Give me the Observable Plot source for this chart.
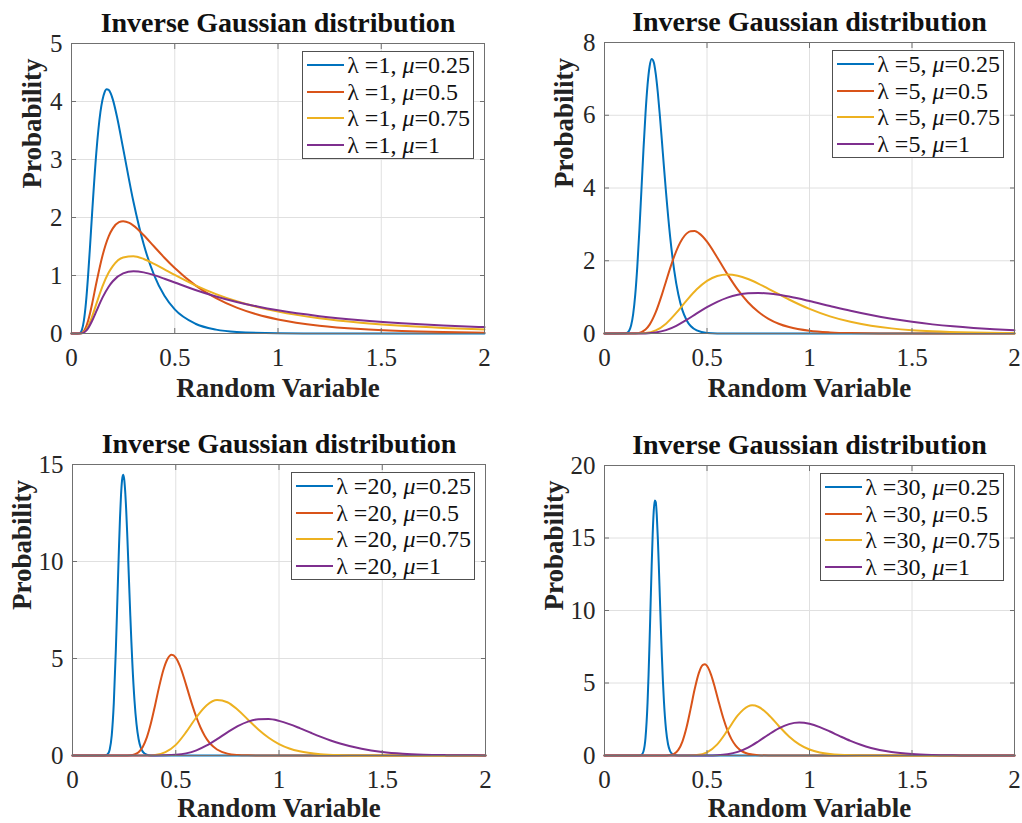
<!DOCTYPE html>
<html><head><meta charset="utf-8">
<script src="https://cdn.jsdelivr.net/npm/d3@7"></script>
<script src="https://cdn.jsdelivr.net/npm/@observablehq/plot@0.6"></script>
<style>
body{margin:0;background:#fff;}
#root{position:relative;width:1022px;height:823px;overflow:hidden;background:#fff;font-family:"Liberation Serif","Times New Roman",Times,serif;}
.panel{position:absolute;}
.panel svg{display:block;max-width:none;}
.panel svg text{font-family:"Liberation Serif","Times New Roman",Times,serif;}
.legend{position:absolute;background:#fff;border:1px solid #505050;padding:0 3px 0 4px;font-size:24px;color:#111;line-height:1;font-family:"Liberation Serif","Times New Roman",Times,serif;}
.legend .row{display:flex;align-items:center;height:26.6px;white-space:nowrap;}
.legend .sw{display:inline-block;width:37px;height:0;border-top:2px solid;margin-right:3px;}
</style></head><body><div id="root"></div>
<script>
// ---------- categories / labels ----------
const titleText = "Inverse Gaussian distribution";
const xLabel = "Random Variable";
const yLabel = "Probability";
const lambdas = [1, 5, 20, 30];
const mus = [0.25, 0.5, 0.75, 1];
const seriesColors = ["#0072BD", "#D95319", "#EDB120", "#7E2F8E"];
const xTicks = [0, 0.5, 1, 1.5, 2];
const yTicks1 = [0, 1, 2, 3, 4, 5];
const yTicks2 = [0, 2, 4, 6, 8];
const yTicks3 = [0, 5, 10, 15];
const yTicks4 = [0, 5, 10, 15, 20];

// ---------- lambda = 1 ----------
const x_l1_m025 = [0, 0.03, 0.04, 0.05, 0.06, 0.07, 0.08, 0.09, 0.1, 0.12, 0.14, 0.16, 0.17, 0.18, 0.19, 0.2, 0.22, 0.25, 0.3, 0.35, 0.4, 0.45, 0.5, 0.6, 0.7, 0.8, 1.0, 1.2, 1.5, 2.0];
const y_l1_m025 = [0, 0.0002, 0.0074, 0.059, 0.221, 0.531, 0.980, 1.518, 2.085, 3.111, 3.815, 4.158, 4.212, 4.202, 4.140, 4.036, 3.742, 3.192, 2.271, 1.533, 1.006, 0.649, 0.415, 0.168, 0.067, 0.027, 0.0044, 0.0007, 0.0001, 0];
const x_l1_m05 = [0, 0.03, 0.05, 0.06, 0.07, 0.08, 0.09, 0.1, 0.12, 0.15, 0.18, 0.2, 0.23, 0.25, 0.28, 0.3, 0.35, 0.4, 0.45, 0.5, 0.6, 0.7, 0.8, 0.9, 1.0, 1.2, 1.4, 1.6, 1.8, 2.0];
const y_l1_m05 = [0, 0, 0.0108, 0.0428, 0.109, 0.214, 0.353, 0.514, 0.865, 1.341, 1.675, 1.813, 1.919, 1.936, 1.906, 1.860, 1.694, 1.500, 1.307, 1.128, 0.830, 0.608, 0.445, 0.327, 0.242, 0.134, 0.0757, 0.0434, 0.0253, 0.0149];
const x_l1_m075 = [0, 0.03, 0.05, 0.06, 0.07, 0.08, 0.1, 0.12, 0.15, 0.18, 0.2, 0.25, 0.3, 0.35, 0.4, 0.45, 0.5, 0.6, 0.7, 0.8, 0.9, 1.0, 1.2, 1.4, 1.6, 1.8, 2.0];
const y_l1_m075 = [0, 0, 0.0059, 0.0235, 0.0607, 0.120, 0.295, 0.507, 0.813, 1.050, 1.163, 1.312, 1.333, 1.284, 1.201, 1.106, 1.010, 0.830, 0.679, 0.556, 0.457, 0.377, 0.261, 0.184, 0.132, 0.0958, 0.0704];
const x_l1_m1 = [0, 0.03, 0.05, 0.06, 0.07, 0.08, 0.1, 0.12, 0.15, 0.18, 0.2, 0.25, 0.3, 0.35, 0.4, 0.45, 0.5, 0.6, 0.7, 0.8, 0.9, 1.0, 1.2, 1.4, 1.6, 1.8, 2.0];
const y_l1_m1 = [0, 0, 0.0043, 0.0172, 0.0447, 0.0889, 0.220, 0.381, 0.618, 0.807, 0.901, 1.036, 1.073, 1.054, 1.006, 0.944, 0.879, 0.751, 0.639, 0.544, 0.465, 0.399, 0.2985, 0.2275, 0.176, 0.138, 0.110];

// ---------- lambda = 5 ----------
const x_l5_m025 = [0, 0.1, 0.11, 0.12, 0.13, 0.14, 0.15, 0.16, 0.17, 0.18, 0.19, 0.2, 0.21, 0.22, 0.23, 0.24, 0.25, 0.26, 0.27, 0.28, 0.29, 0.3, 0.32, 0.34, 0.36, 0.38, 0.4, 0.45, 0.5, 0.6, 2.0];
const y_l5_m025 = [0, 0.0035, 0.0196, 0.0768, 0.227, 0.537, 1.067, 1.840, 2.823, 3.932, 5.048, 6.049, 6.834, 7.340, 7.544, 7.462, 7.137, 6.626, 5.993, 5.294, 4.581, 3.890, 2.671, 1.735, 1.077, 0.643, 0.372, 0.0844, 0.017, 0.0006, 0];
const x_l5_m05 = [0, 0.15, 0.18, 0.2, 0.22, 0.25, 0.28, 0.3, 0.32, 0.34, 0.36, 0.38, 0.4, 0.42, 0.44, 0.46, 0.48, 0.5, 0.55, 0.6, 0.65, 0.7, 0.75, 0.8, 0.85, 0.9, 1.0, 1.1, 1.2, 1.4, 1.6, 2.0];
const y_l5_m05 = [0, 0.0044, 0.0395, 0.111, 0.245, 0.586, 1.069, 1.431, 1.790, 2.119, 2.396, 2.607, 2.746, 2.814, 2.816, 2.761, 2.660, 2.523, 2.090, 1.625, 1.204, 0.860, 0.597, 0.405, 0.269, 0.177, 0.0732, 0.0293, 0.0114, 0.0017, 0.0002, 0];
const x_l5_m075 = [0, 0.15, 0.2, 0.25, 0.3, 0.35, 0.4, 0.45, 0.5, 0.55, 0.6, 0.65, 0.7, 0.75, 0.8, 0.85, 0.9, 1.0, 1.1, 1.2, 1.3, 1.4, 1.5, 1.6, 1.8, 2.0];
const y_l5_m075 = [0, 0.0004, 0.012, 0.0838, 0.270, 0.565, 0.904, 1.215, 1.448, 1.583, 1.625, 1.590, 1.499, 1.373, 1.229, 1.080, 0.935, 0.676, 0.471, 0.321, 0.214, 0.141, 0.0917, 0.0593, 0.0243, 0.0098];
const x_l5_m1 = [0, 0.15, 0.2, 0.25, 0.3, 0.35, 0.4, 0.45, 0.5, 0.55, 0.6, 0.65, 0.7, 0.75, 0.8, 0.85, 0.9, 1.0, 1.1, 1.2, 1.3, 1.4, 1.5, 1.6, 1.7, 1.8, 1.9, 2.0];
const y_l5_m1 = [0, 0, 0.0033, 0.0257, 0.0915, 0.211, 0.372, 0.551, 0.723, 0.871, 0.986, 1.063, 1.105, 1.115, 1.100, 1.066, 1.016, 0.892, 0.756, 0.624, 0.506, 0.405, 0.320, 0.251, 0.196, 0.152, 0.117, 0.0904];

// ---------- lambda = 20 ----------
const x_l20_m025 = [0, 0.15, 0.16, 0.17, 0.18, 0.19, 0.2, 0.21, 0.215, 0.22, 0.225, 0.23, 0.235, 0.24, 0.245, 0.25, 0.255, 0.26, 0.265, 0.27, 0.275, 0.28, 0.285, 0.29, 0.3, 0.31, 0.32, 0.33, 0.34, 0.36, 0.38, 0.4, 2.0];
const y_l20_m025 = [0, 0.0007, 0.0085, 0.0616, 0.300, 1.039, 2.700, 5.479, 7.192, 8.986, 10.718, 12.246, 13.437, 14.195, 14.474, 14.273, 13.640, 12.655, 11.417, 10.033, 8.600, 7.200, 5.895, 4.725, 2.862, 1.612, 0.851, 0.423, 0.199, 0.0381, 0.0062, 0.0009, 0];
const x_l20_m05 = [0, 0.25, 0.28, 0.3, 0.32, 0.34, 0.36, 0.38, 0.4, 0.42, 0.44, 0.46, 0.48, 0.5, 0.52, 0.54, 0.56, 0.58, 0.6, 0.62, 0.64, 0.66, 0.68, 0.7, 0.75, 0.8, 0.85, 0.9, 1.0, 2.0];
const y_l20_m05 = [0, 0.0007, 0.012, 0.0524, 0.172, 0.443, 0.936, 1.673, 2.595, 3.563, 4.406, 4.975, 5.189, 5.046, 4.614, 3.994, 3.292, 2.598, 1.971, 1.443, 1.024, 0.705, 0.473, 0.310, 0.098, 0.0277, 0.0071, 0.0017, 0.0001, 0];
const x_l20_m075 = [0, 0.3, 0.35, 0.4, 0.45, 0.5, 0.55, 0.6, 0.65, 0.7, 0.75, 0.8, 0.85, 0.9, 0.95, 1.0, 1.05, 1.1, 1.2, 1.3, 1.4, 1.5, 1.7, 2.0];
const y_l20_m075 = [0, 0, 0.0025, 0.0305, 0.169, 0.547, 1.201, 1.971, 2.590, 2.859, 2.747, 2.359, 1.847, 1.340, 0.912, 0.587, 0.361, 0.214, 0.0676, 0.0192, 0.0050, 0.0012, 0.0001, 0];
const x_l20_m1 = [0, 0.4, 0.45, 0.5, 0.55, 0.6, 0.65, 0.7, 0.75, 0.8, 0.85, 0.9, 0.95, 1.0, 1.05, 1.1, 1.15, 1.2, 1.25, 1.3, 1.4, 1.5, 1.6, 1.7, 1.8, 1.9, 2.0];
const y_l20_m1 = [0, 0.0009, 0.0071, 0.034, 0.110, 0.267, 0.517, 0.842, 1.194, 1.512, 1.747, 1.870, 1.877, 1.784, 1.619, 1.412, 1.190, 0.973, 0.774, 0.602, 0.344, 0.183, 0.0929, 0.0451, 0.0211, 0.0096, 0.0043];

// ---------- lambda = 30 ----------
const x_l30_m025 = [0, 0.16, 0.17, 0.18, 0.19, 0.2, 0.21, 0.215, 0.22, 0.225, 0.23, 0.235, 0.24, 0.245, 0.25, 0.255, 0.26, 0.265, 0.27, 0.275, 0.28, 0.285, 0.29, 0.3, 0.31, 0.32, 0.33, 0.34, 0.36, 0.38, 2.0];
const y_l30_m025 = [0, 0, 0.0037, 0.0416, 0.280, 1.216, 3.647, 5.584, 7.933, 10.512, 13.050, 15.243, 16.816, 17.583, 17.481, 16.574, 15.029, 13.065, 10.915, 8.782, 6.818, 5.119, 3.722, 1.800, 0.780, 0.306, 0.110, 0.0362, 0.0032, 0.0002, 0];
const x_l30_m05 = [0, 0.3, 0.32, 0.34, 0.36, 0.38, 0.4, 0.42, 0.44, 0.46, 0.48, 0.49, 0.5, 0.52, 0.54, 0.56, 0.58, 0.6, 0.62, 0.64, 0.66, 0.68, 0.7, 0.75, 0.8, 0.9, 2.0];
const y_l30_m05 = [0, 0.0045, 0.0278, 0.120, 0.386, 0.960, 1.927, 3.218, 4.582, 5.684, 6.250, 6.293, 6.180, 5.565, 4.610, 3.545, 2.552, 1.730, 1.111, 0.679, 0.398, 0.223, 0.121, 0.0227, 0.0036, 0.0001, 0];
const x_l30_m075 = [0, 0.4, 0.45, 0.5, 0.55, 0.6, 0.65, 0.7, 0.72, 0.75, 0.8, 0.85, 0.9, 0.95, 1.0, 1.05, 1.1, 1.2, 1.3, 1.4, 2.0];
const y_l30_m075 = [0, 0.0025, 0.035, 0.220, 0.770, 1.730, 2.766, 3.392, 3.460, 3.364, 2.810, 2.038, 1.314, 0.768, 0.413, 0.207, 0.0972, 0.0185, 0.0030, 0.0004, 0];
const x_l30_m1 = [0, 0.45, 0.5, 0.55, 0.6, 0.65, 0.7, 0.75, 0.8, 0.85, 0.9, 0.95, 1.0, 1.05, 1.1, 1.15, 1.2, 1.25, 1.3, 1.4, 1.5, 1.6, 1.7, 1.8, 2.0];
const y_l30_m1 = [0, 0.0003, 0.0034, 0.0214, 0.0861, 0.247, 0.542, 0.964, 1.443, 1.875, 2.166, 2.269, 2.185, 1.960, 1.653, 1.321, 1.008, 0.739, 0.522, 0.238, 0.0976, 0.0369, 0.0131, 0.0044, 0.0004];

// ---------- rendering ----------
const FONT = '"Liberation Serif", "Times New Roman", Times, serif';
const root = document.getElementById("root");

const panels = [
  {left: 0,   top: 0,   width: 511, height: 410, ml: 71, mr: 27, mt: 43, mb: 77, yTicks: yTicks1, lambda: lambdas[0],
   curves: [[x_l1_m025, y_l1_m025], [x_l1_m05, y_l1_m05], [x_l1_m075, y_l1_m075], [x_l1_m1, y_l1_m1]], ylDx: -39, xlDy: 55},
  {left: 511, top: 0,   width: 511, height: 410, ml: 93, mr: 8,  mt: 42, mb: 77, yTicks: yTicks2, lambda: lambdas[1],
   curves: [[x_l5_m025, y_l5_m025], [x_l5_m05, y_l5_m05], [x_l5_m075, y_l5_m075], [x_l5_m1, y_l5_m1]], ylDx: -40, xlDy: 55},
  {left: 0,   top: 410, width: 511, height: 413, ml: 72, mr: 26, mt: 54, mb: 68, yTicks: yTicks3, lambda: lambdas[2],
   curves: [[x_l20_m025, y_l20_m025], [x_l20_m05, y_l20_m05], [x_l20_m075, y_l20_m075], [x_l20_m1, y_l20_m1]], ylDx: -50, xlDy: 53},
  {left: 511, top: 410, width: 511, height: 413, ml: 93, mr: 8,  mt: 55, mb: 68, yTicks: yTicks4, lambda: lambdas[3],
   curves: [[x_l30_m025, y_l30_m025], [x_l30_m05, y_l30_m05], [x_l30_m075, y_l30_m075], [x_l30_m1, y_l30_m1]], ylDx: -50, xlDy: 53}
];

for (const p of panels) {
  const yMax = p.yTicks[p.yTicks.length - 1];
  const lineMarks = p.curves.map(([xs, ys], i) =>
    Plot.line(xs.map((v, j) => ({x: v, y: ys[j]})), {
      x: "x", y: "y", stroke: seriesColors[i], strokeWidth: 2, curve: "monotone-x"
    })
  );
  const chart = Plot.plot({
    width: p.width, height: p.height,
    marginLeft: p.ml, marginRight: p.mr, marginTop: p.mt, marginBottom: p.mb,
    style: {fontFamily: FONT, fontSize: "25px", color: "#262626", background: "white", overflow: "visible"},
    x: {domain: [0, 2]},
    y: {domain: [0, yMax]},
    marks: [
      Plot.gridX(xTicks, {stroke: "#e0e0e0", strokeOpacity: 1, strokeWidth: 1}),
      Plot.gridY(p.yTicks, {stroke: "#e0e0e0", strokeOpacity: 1, strokeWidth: 1}),
      ...lineMarks,
      Plot.axisX(xTicks, {tickSize: 0, tickPadding: 15, tickFormat: d => String(d), label: null, fontSize: 25, fill: "#262626"}),
      Plot.axisX(xTicks, {tickSize: -5, tickFormat: () => "", label: null, stroke: "#707070"}),
      Plot.axisX(xTicks, {anchor: "top", tickSize: -5, tickFormat: () => "", label: null, stroke: "#707070"}),
      Plot.axisY(p.yTicks, {tickSize: 0, tickPadding: 9, tickFormat: d => String(d), label: null, fontSize: 25, fill: "#262626"}),
      Plot.axisY(p.yTicks, {tickSize: -5, tickFormat: () => "", label: null, stroke: "#707070"}),
      Plot.axisY(p.yTicks, {anchor: "right", tickSize: -5, tickFormat: () => "", label: null, stroke: "#707070"}),
      Plot.frame({stroke: "#707070", strokeWidth: 1}),
      Plot.text([titleText], {text: d => d, frameAnchor: "top", lineAnchor: "middle", dy: -20, fontWeight: "bold", fontSize: 28, fill: "#111"}),
      Plot.text([xLabel], {text: d => d, frameAnchor: "bottom", lineAnchor: "middle", dy: p.xlDy, fontWeight: "bold", fontSize: 27, fill: "#222"}),
      Plot.text([yLabel], {text: d => d, frameAnchor: "left", lineAnchor: "middle", rotate: -90, dx: p.ylDx, fontWeight: "bold", fontSize: 27, fill: "#222"})
    ]
  });
  const div = document.createElement("div");
  div.className = "panel";
  div.style.left = p.left + "px";
  div.style.top = p.top + "px";
  div.style.width = p.width + "px";
  div.style.height = p.height + "px";
  div.appendChild(chart);

  const leg = document.createElement("div");
  leg.className = "legend";
  leg.style.right = (p.mr + 10) + "px";
  leg.style.top = (p.mt + 8) + "px";
  mus.forEach((mu, i) => {
    const row = document.createElement("div");
    row.className = "row";
    const sw = document.createElement("span");
    sw.className = "sw";
    sw.style.borderTopColor = seriesColors[i];
    row.appendChild(sw);
    const t = document.createElement("span");
    t.innerHTML = `\u03BB =${p.lambda}, <i>\u03BC</i>=${mu}`;
    row.appendChild(t);
    leg.appendChild(row);
  });
  div.appendChild(leg);
  root.appendChild(div);
}
</script></body></html>
